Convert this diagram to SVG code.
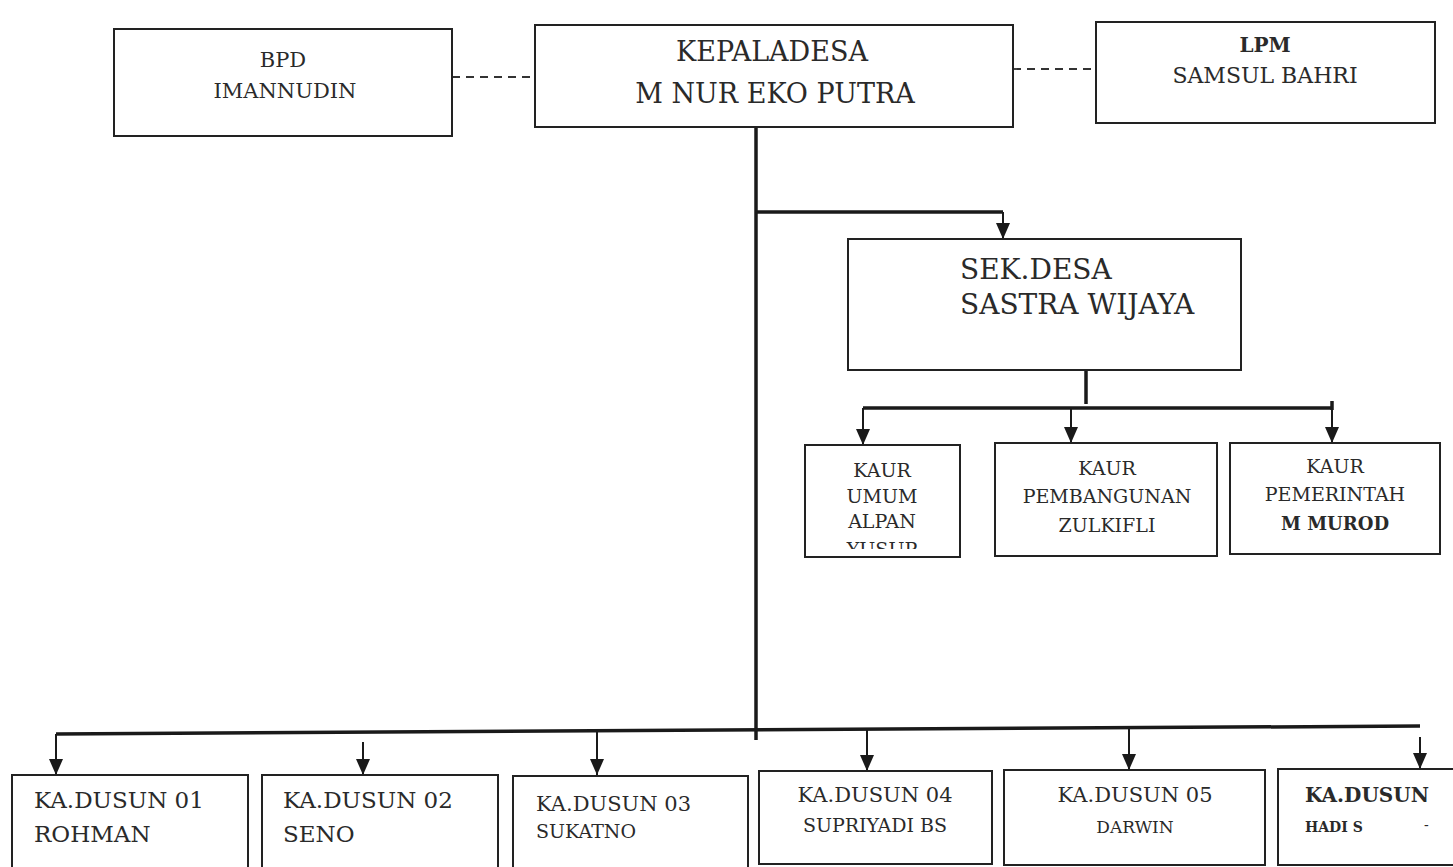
<svg xmlns="http://www.w3.org/2000/svg" width="1453" height="867" viewBox="0 0 1453 867">
<style>
.box{fill:#fff;stroke:#222;stroke-width:2}
.t{font-family:"DejaVu Serif","Liberation Serif",serif;fill:#2a2a2a}
.c{text-anchor:middle}
.b{font-weight:bold}
.bus{fill:none;stroke:#1a1a1a;stroke-width:3.5}
.stem{fill:none;stroke:#1a1a1a;stroke-width:2}
.dash{fill:none;stroke:#333;stroke-width:1.8;stroke-dasharray:8 6}
</style>
<defs>
<marker id="ah" viewBox="0 0 16 14" refX="16" refY="7" markerWidth="16" markerHeight="14" markerUnits="userSpaceOnUse" orient="auto">
<path d="M0,0 L16,7 L0,14 z" fill="#1a1a1a"/>
</marker>
<clipPath id="clipUmum"><rect x="805" y="445" width="155" height="104"/></clipPath>
</defs>
<rect width="1453" height="867" fill="#fff"/>

<g id="connectors">
<path class="dash" d="M452,77 H535"/>
<path class="dash" d="M1013,69 H1096"/>
<path class="bus" d="M756,127 V740"/>
<path class="bus" d="M756,212 H1003"/>
<path class="stem" d="M1003,212 V239" marker-end="url(#ah)"/>
<path class="bus" d="M1086,370 V404"/>
<path class="bus" d="M863,408 H1332 M1332,401 V410"/>
<path class="stem" d="M863,408 V445" marker-end="url(#ah)"/>
<path class="stem" d="M1071,408 V443" marker-end="url(#ah)"/>
<path class="stem" d="M1332,408 V443" marker-end="url(#ah)"/>
<path class="bus" d="M56,734 L1420,726"/>
<path class="stem" d="M56,734 V775" marker-end="url(#ah)"/>
<path class="stem" d="M363,742 V775" marker-end="url(#ah)"/>
<path class="stem" d="M597,731 V775" marker-end="url(#ah)"/>
<path class="stem" d="M867,730 V771" marker-end="url(#ah)"/>
<path class="stem" d="M1129,728 V770" marker-end="url(#ah)"/>
<path class="stem" d="M1420,737 V769" marker-end="url(#ah)"/>
</g>

<g id="bpd">
<rect class="box" x="114" y="29" width="338" height="107"/>
<text class="t c" x="283" y="67" font-size="21">BPD</text>
<text class="t c" x="285" y="98" font-size="21">IMANNUDIN</text>
</g>

<g id="kepaladesa">
<rect class="box" x="535" y="25" width="478" height="102"/>
<text class="t c" x="772" y="61" font-size="27">KEPALADESA</text>
<text class="t c" x="775" y="103" font-size="27">M NUR EKO PUTRA</text>
</g>

<g id="lpm">
<rect class="box" x="1096" y="22" width="339" height="101"/>
<text class="t c" x="1265" y="52" font-size="20" font-weight="600">LPM</text>
<text class="t c" x="1265" y="83" font-size="22">SAMSUL BAHRI</text>
</g>

<g id="sekdesa">
<rect class="box" x="848" y="239" width="393" height="131"/>
<text class="t" x="960" y="279" font-size="28">SEK.DESA</text>
<text class="t" x="960" y="314" font-size="28">SASTRA WIJAYA</text>
</g>

<g id="kaur-umum">
<rect class="box" x="805" y="445" width="155" height="112"/>
<text class="t c" x="882" y="477" font-size="19">KAUR</text>
<text class="t c" x="882" y="503" font-size="19">UMUM</text>
<text class="t c" x="882" y="528" font-size="19">ALPAN</text>
<text class="t c" x="882" y="556" font-size="19" clip-path="url(#clipUmum)">YUSUP</text>
</g>

<g id="kaur-pembangunan">
<rect class="box" x="995" y="443" width="222" height="113"/>
<text class="t c" x="1107" y="475" font-size="19">KAUR</text>
<text class="t c" x="1107" y="503" font-size="19">PEMBANGUNAN</text>
<text class="t c" x="1107" y="532" font-size="19">ZULKIFLI</text>
</g>

<g id="kaur-pemerintah">
<rect class="box" x="1230" y="443" width="210" height="111"/>
<text class="t c" x="1335" y="473" font-size="19">KAUR</text>
<text class="t c" x="1335" y="501" font-size="19">PEMERINTAH</text>
<text class="t c b" x="1335" y="530" font-size="18">M MUROD</text>
</g>

<g id="dusun01">
<rect class="box" x="12" y="775" width="236" height="100"/>
<text class="t" x="34" y="808" font-size="23">KA.DUSUN 01</text>
<text class="t" x="34" y="842" font-size="23">ROHMAN</text>
</g>

<g id="dusun02">
<rect class="box" x="262" y="775" width="236" height="100"/>
<text class="t" x="283" y="808" font-size="23">KA.DUSUN 02</text>
<text class="t" x="283" y="842" font-size="23">SENO</text>
</g>

<g id="dusun03">
<rect class="box" x="513" y="776" width="235" height="100"/>
<text class="t" x="536" y="811" font-size="21">KA.DUSUN 03</text>
<text class="t" x="536" y="838" font-size="19">SUKATNO</text>
</g>

<g id="dusun04">
<rect class="box" x="759" y="771" width="233" height="93"/>
<text class="t c" x="875" y="802" font-size="21">KA.DUSUN 04</text>
<text class="t c" x="875" y="832" font-size="19">SUPRIYADI BS</text>
</g>

<g id="dusun05">
<rect class="box" x="1004" y="770" width="261" height="95"/>
<text class="t c" x="1135" y="802" font-size="21">KA.DUSUN 05</text>
<text class="t c" x="1135" y="833" font-size="17">DARWIN</text>
</g>

<g id="dusun06">
<rect class="box" x="1278" y="769" width="190" height="96"/>
<text class="t b" x="1305" y="802" font-size="20">KA.DUSUN</text>
<text class="t b" x="1305" y="832" font-size="14">HADI S</text>
<text class="t" x="1424" y="830" font-size="14">-</text>
</g>
</svg>
